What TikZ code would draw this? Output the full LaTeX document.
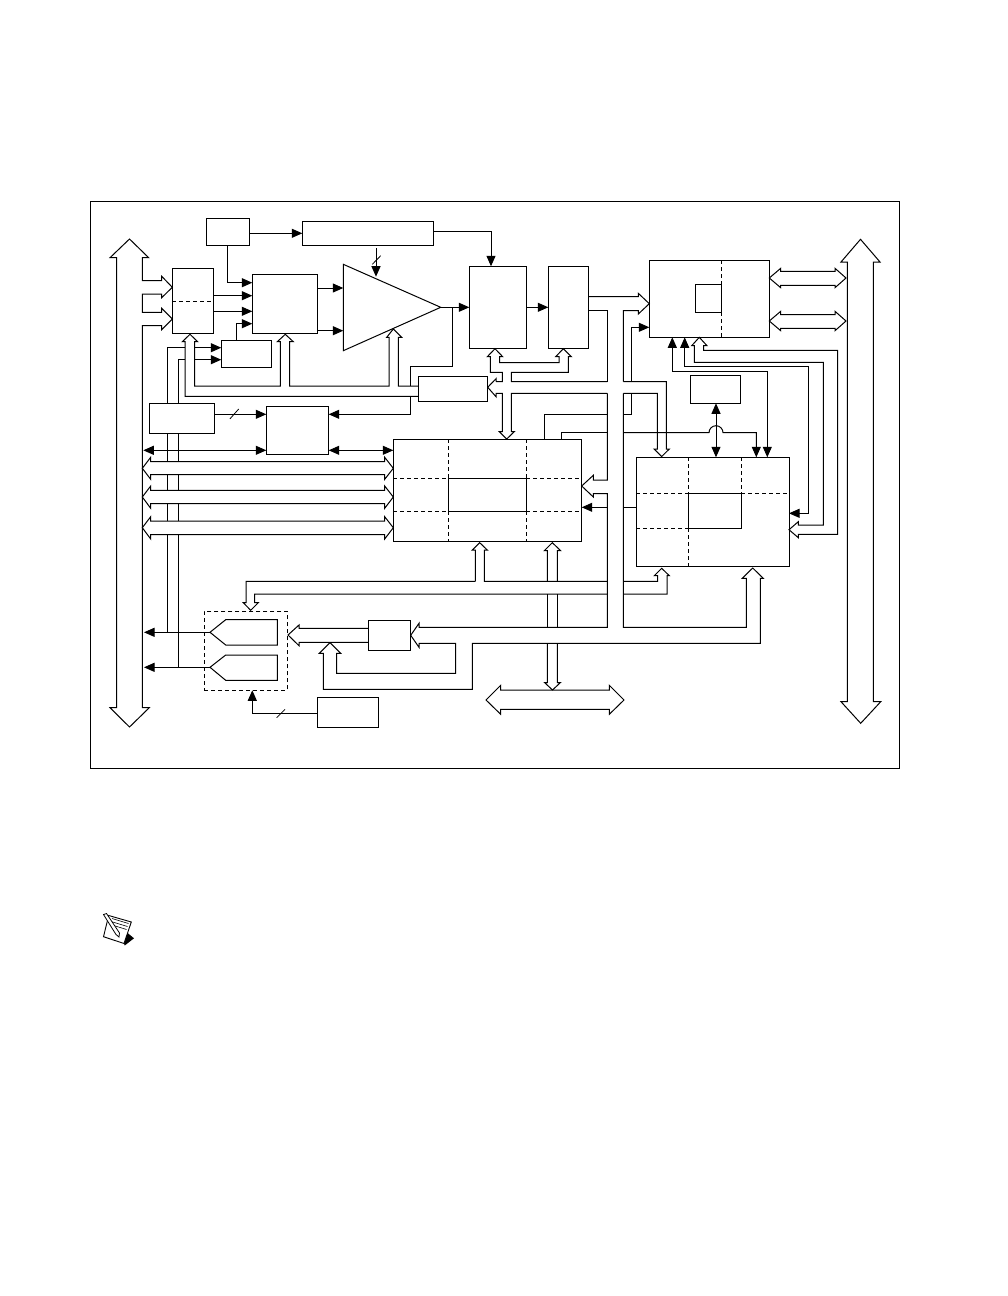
\documentclass[tikz,border=0pt]{standalone}
\usetikzlibrary{arrows.meta,fit}
\tikzset{
  x=1pt,y=-1pt,
  lw/.style={line width=1pt,line join=miter,line cap=butt,black},
  boxn/.style={draw,lw,inner sep=0pt,outer sep=0pt,fit={#1}},
  dashbox/.style={draw,line width=.9pt,dash pattern=on 4pt off 3pt,inner sep=0pt,outer sep=0pt,fit={#1}},
  arr/.style={lw,-{Triangle[length=10.5pt,width=9pt]}},
  dbl/.style={lw,{Triangle[length=10.5pt,width=9pt]}-{Triangle[length=10.5pt,width=9pt]}},
  conn/.style={lw},
  bus/.style={lw},
  dline/.style={line width=.9pt,dash pattern=on 4pt off 3pt},
  slash/.style={line width=.8pt},
}
\begin{document}
\begin{tikzpicture}
\useasboundingbox (0,0) rectangle (1008,1296);
\fill[white] (0,0) rectangle (1008,1296);
% frame
\node[boxn={(90.7,201)(899.7,768.3)}] (frame) {};
% boxes
\node[boxn={(172.3,268.3)(213.3,333.3)}] (muxa) {};
\node[boxn={(206.3,218.3)(249.3,245.3)}] (clk) {};
\node[boxn={(302.3,221.3)(433.3,245.3)}] (longb) {};
\node[boxn={(252.3,274.3)(317.3,333.3)}] (bbox) {};
\node[boxn={(221.3,340.3)(271.3,367.3)}] (cbox) {};
\node[boxn={(149.3,403.3)(214.7,433.3)}] (fbox) {};
\node[boxn={(266.3,406.3)(328.7,454.3)}] (ebox) {};
\node[boxn={(418.3,376.3)(487.7,401.3)}] (dbox) {};
\node[boxn={(469.3,266.3)(526.7,348.7)}] (hbox) {};
\node[boxn={(548.3,266.3)(588.7,348.7)}] (ibox) {};
\node[boxn={(649.3,260.3)(769.3,337.3)}] (kbox) {};
\node[boxn={(695.3,284.3)(721.3,312.3)}] (kin) {};
\node[boxn={(690.3,375.3)(740.7,403.3)}] (lbox) {};
\node[boxn={(393.3,439.3)(581.7,541.3)}] (gbox) {};
\node[boxn={(448.3,478.3)(526.3,511.3)}] (gin) {};
\node[boxn={(636,457.3)(789,566.7)}] (jbox) {};
\node[boxn={(688.3,493.3)(741.3,528.3)}] (jin) {};
\node[boxn={(368.3,620.3)(410.7,650.3)}] (mbox) {};
\node[boxn={(317.3,697.3)(378.7,727.3)}] (nbox) {};
\node[dashbox={(204.3,611.3)(287.3,690.3)}] (dacs) {};
% dashes in boxes
\draw[dline] (muxa.west |- 0,301.3) -- (muxa.east |- 0,301.3);
\draw[dline] (721.3,260.3) -- (721.3,284.3) (721.3,312.3) -- (721.3,337.3);
\draw[dline] (448.3,439.3) -- (448.3,478.3) (448.3,511.3) -- (448.3,541.3);
\draw[dline] (526.3,439.3) -- (526.3,478.3) (526.3,511.3) -- (526.3,541.3);
\draw[dline] (393.3,478.3) -- (448.3,478.3) (526.3,478.3) -- (581.7,478.3);
\draw[dline] (393.3,511.3) -- (448.3,511.3) (526.3,511.3) -- (581.7,511.3);
\draw[dline] (688.3,457.3) -- (688.3,493.3) (688.3,528.3) -- (688.3,566.7);
\draw[dline] (741.3,457.3) -- (741.3,493.3);
\draw[dline] (636,493.3) -- (688.3,493.3) (741.3,493.3) -- (789,493.3);
\draw[dline] (636,528.3) -- (688.3,528.3);
% amplifier
\coordinate (amptip) at (440.7,307.3);
\draw[lw] (343.3,264.3) -- (amptip) -- (343.3,350.7) -- cycle;
% DAC shapes
\coordinate (dac1) at (210,632.3);
\coordinate (dac2) at (210,667.3);
\draw[lw] (dac1) -- (225.7,619.7) -- (277.3,619.7) -- (277.3,645) -- (225.7,645) -- cycle;
\draw[lw] (dac2) -- (225.7,655) -- (277.3,655) -- (277.3,680.3) -- (225.7,680.3) -- cycle;
% big buses
\draw[bus] (129.5,239) -- (148.7,257.7) -- (142.3,257.7) -- (142.3,280.7) -- (161.7,280.7) -- (161.7,276.3) -- (muxa.west |- 0,287.3) -- (161.7,297.7) -- (161.7,294) -- (142.3,294) -- (142.3,312.3) -- (161.7,312.3) -- (161.7,308.3) -- (muxa.west |- 0,319) -- (161.7,329.7) -- (161.7,325.7) -- (142.3,325.7) -- (142.3,707.7) -- (149.3,707.7) -- (129.5,727) -- (110,707.7) -- (116.7,707.7) -- (116.7,257.7) -- (110,257.7) -- cycle;
\draw[bus] (860.5,239.3) -- (880,262) -- (873.3,262) -- (873.3,701.7) -- (880.7,701.7) -- (860.7,723.3) -- (841,701.7) -- (847.3,701.7) -- (847.3,262) -- (841,262) -- cycle;
% horizontal double buses
\draw[bus] (142.3,468.3) -- (150.7,457.3) -- (150.7,461.7) -- (384.7,461.7) -- (384.7,457.3) -- (gbox.west |- 0,468.3) -- (384.7,479.3) -- (384.7,474.7) -- (150.7,474.7) -- (150.7,479.3) -- cycle;
\draw[bus] (142.3,497) -- (150.7,486) -- (150.7,490.3) -- (384.7,490.3) -- (384.7,486) -- (gbox.west |- 0,497) -- (384.7,508.3) -- (384.7,503.7) -- (150.7,503.7) -- (150.7,508.3) -- cycle;
\draw[bus] (142.3,527.7) -- (150.7,516.7) -- (150.7,521) -- (384.7,521) -- (384.7,516.7) -- (gbox.west |- 0,527.7) -- (384.7,539) -- (384.7,534.7) -- (150.7,534.7) -- (150.7,539) -- cycle;
\draw[bus] (kbox.east |- 0,278) -- (780.7,268.3) -- (780.7,271.3) -- (835,271.3) -- (835,268.3) -- (846,278) -- (835,287.7) -- (835,285.3) -- (780.7,285.3) -- (780.7,287.7) -- cycle;
\draw[bus] (kbox.east |- 0,321) -- (780.7,311.3) -- (780.7,314.7) -- (835,314.7) -- (835,311.3) -- (846,321) -- (835,330.7) -- (835,328.3) -- (780.7,328.3) -- (780.7,330.7) -- cycle;
\draw[bus] (486,700) -- (500.7,685.3) -- (500.7,690) -- (609.3,690) -- (609.3,685.3) -- (624,700) -- (609.3,714.3) -- (609.3,709.3) -- (500.7,709.3) -- (500.7,714.3) -- cycle;
% bus from D to mux, B and amp
\draw[bus] (dbox.west |- 0,396.3) -- (185,396.3) -- (185,341.7) -- (182.3,341.7) -- (190,334.3) -- (197.7,341.7) -- (194.7,341.7) -- (194.7,386) -- (280.3,386) -- (280.3,341.7) -- (277.3,341.7) -- (285.3,334.3) -- (293.3,341.7) -- (289.7,341.7) -- (289.7,386) -- (389,386) -- (389,337.3) -- (386.7,337.3) -- (393.3,329) -- (401.7,337.3) -- (398.3,337.3) -- (398.3,386) -- (dbox.west |- 0,386);
% H, I, D, G, J bus
\draw[bus] (496,381.7) -- (502.3,381.7) -- (502.3,372.3) -- (490.3,372.3) -- (490.3,356.7) -- (487.3,356.7) -- (495,348.7) -- (502.7,356.7) -- (499.7,356.7) -- (499.7,362.7) -- (559,362.7) -- (559,356.7) -- (555.7,356.7) -- (563.3,348.7) -- (571.3,356.7) -- (568.3,356.7) -- (568.3,372.3) -- (511.3,372.3) -- (511.3,381.7) -- (607.3,381.7);
\draw[bus] (496,381.7) -- (496,378.7) -- (dbox.east |- 0,387.3) -- (496,396.7) -- (496,393.3) -- (502.3,393.3) -- (502.3,431.7) -- (499.3,431.7) -- (506.7,439) -- (514.3,431.7) -- (511.3,431.7) -- (511.3,393.3) -- (607.3,393.3);
\draw[bus] (623.3,381.7) -- (666.3,381.7) -- (666.3,449) -- (669.3,449) -- (661.7,456.5) -- (654,449) -- (657.3,449) -- (657.3,393.3) -- (623.3,393.3);
% I to K and down the middle
\draw[bus] (ibox.east |- 0,296.7) -- (638.3,296.7) -- (638.3,293.3) -- (kbox.west |- 0,303.7) -- (638.3,314) -- (638.3,310.7) -- (623.3,310.7) -- (623.3,381.7);
\draw[bus] (623.3,393.3) -- (623.3,627.3) -- (746.3,627.3) -- (746.3,578.3) -- (742.3,578.3) -- (752.7,568) -- (763.3,578.3) -- (760.3,578.3) -- (760.3,643.3) -- (472.3,643.3) -- (472.3,689.3) -- (323.3,689.3) -- (323.3,653.3) -- (319.3,653.3) -- (330,642.7) -- (340.7,653.3) -- (336.7,653.3) -- (336.7,673.3) -- (455.7,673.3) -- (455.7,643.3) -- (419,643.3) -- (419,647.3) -- (mbox.east |- 0,635.3) -- (419,623.3) -- (419,627.3) -- (607.3,627.3) -- (607.3,493.7) -- (593.3,493.7) -- (593.3,497) -- (gbox.east |- 0,486) -- (593.3,475.3) -- (593.3,480) -- (607.3,480) -- (607.3,393.3);
\draw[bus] (607.3,381.7) -- (607.3,310.7) -- (ibox.east |- 0,310.7);
% G bottom to data bus
\draw[bus] (547.3,581.3) -- (547.3,550.7) -- (544.3,550.7) -- (552.3,542.7) -- (560.7,550.7) -- (557.3,550.7) -- (557.3,581.3);
\draw[bus] (547.3,594) -- (547.3,627.3) (557.3,594) -- (557.3,627.3);
\draw[bus] (547.3,643.3) -- (547.3,682.7) -- (544.7,682.7) -- (552.5,690) -- (560.3,682.7) -- (557.3,682.7) -- (557.3,643.3);
% G to DACs and J
\draw[bus] (475.3,581.3) -- (475.3,550) -- (472.3,550) -- (479.7,542.7) -- (487.3,550) -- (484.3,550) -- (484.3,581.3) -- (607.3,581.3);
\draw[bus] (475.3,581.3) -- (246,581.3) -- (246,602.7) -- (243.3,602.7) -- (250.7,610.3) -- (258.3,602.7) -- (254.7,602.7) -- (254.7,594) -- (607.3,594);
\draw[bus] (623.3,581.3) -- (657.7,581.3) -- (657.7,575.7) -- (654.3,575.7) -- (661.7,568.3) -- (669.3,575.7) -- (667,575.7) -- (667,594) -- (623.3,594);
% M to DACs
\draw[bus] (mbox.west |- 0,628.3) -- (299,628.3) -- (299,625) -- (288,635) -- (299,645.7) -- (299,642.3) -- (mbox.west |- 0,642.3);
% K to J
\draw[bus] (837.7,534.3) -- (798.3,534.3) -- (798.3,537.7) -- (jbox.east |- 0,529.7) -- (798.3,521.7) -- (798.3,525) -- (823.3,525) -- (823.3,362.3) -- (694.3,362.3) -- (694.3,345.7) -- (691.7,345.7) -- (699.3,0 |- kbox.south) -- (707,345.7) -- (703.7,345.7) -- (703.7,350.3) -- (837.7,350.3) -- cycle;
% thin arrows
\draw[arr] (clk.east |- 0,233.3) -- (longb.west |- 0,233.3);
\draw[arr] (longb.east |- 0,231) -- (491,231) -- (491,0 |- hbox.north);
\draw[arr] (227.7,0 |- clk.south) -- (227.7,282.7) -- (bbox.west |- 0,282.7);
\draw[arr] (muxa.east |- 0,295.7) -- (bbox.west |- 0,295.7);
\draw[arr] (muxa.east |- 0,311.3) -- (bbox.west |- 0,311.3);
\draw[arr] (236.7,0 |- cbox.north) -- (236.7,323.7) -- (bbox.west |- 0,323.7);
\draw[arr] (bbox.east |- 0,288) -- (343.3,288);
\draw[arr] (bbox.east |- 0,330.7) -- (343.3,330.7);
\draw[arr] (376,248.3) -- (376,276.7);
\draw[slash] (372.3,264.3) -- (380.7,255.7);
\draw[arr] (amptip) -- (hbox.west |- amptip);
\draw[arr] (hbox.east |- amptip) -- (ibox.west |- amptip);
\draw[conn] (452.3,307.3) -- (452.3,366.3) -- (410.3,366.3) -- (410.3,386);
\draw[arr] (410.3,396.3) -- (410.3,414.3) -- (ebox.east |- 0,414.3);
\draw[conn] (167.7,0 |- fbox.north) -- (167.7,347.7) -- (185,347.7);
\draw[arr] (194.7,347.7) -- (cbox.west |- 0,347.7);
\draw[conn] (178.7,0 |- fbox.north) -- (178.7,359.7) -- (185,359.7);
\draw[arr] (194.7,359.7) -- (cbox.west |- 0,359.7);
\draw[arr] (fbox.east |- 0,414.3) -- (ebox.west |- 0,414.3);
\draw[slash] (230,418.8) -- (238.7,409);
\draw[conn] (167.7,433.3) -- (167.7,461.7) (167.7,474.7) -- (167.7,490.3) (167.7,503.7) -- (167.7,521) (167.7,534.7) -- (167.7,632.3);
\draw[conn] (178.7,433.3) -- (178.7,461.7) (178.7,474.7) -- (178.7,490.3) (178.7,503.7) -- (178.7,521) (178.7,534.7) -- (178.7,667.3);
\draw[dbl] (143.3,450.3) -- (ebox.west |- 0,450.3);
\draw[dbl] (ebox.east |- 0,450.3) -- (gbox.west |- 0,450.3);
\draw[arr] (dac1) -- (144,632.3);
\draw[arr] (dac2) -- (144,667.3);
\draw[arr] (nbox.west |- 0,713.3) -- (252.3,713.3) -- (252.3,0 |- dacs.south);
\draw[slash] (276.7,717.7) -- (285,709.3);
% G top lines
\draw[conn] (544.3,0 |- gbox.north) -- (544.3,414.3) -- (607.3,414.3);
\draw[conn] (623.3,414.3) -- (631,414.3) -- (631,393.3);
\draw[arr] (631,381.7) -- (631,327.3) -- (kbox.west |- 0,327.3);
\draw[conn] (561.7,0 |- gbox.north) -- (561.7,432.7) -- (607.3,432.7);
\draw[arr] (623.3,432.7) -- (709,432.7) arc[start angle=180,end angle=360,radius=7] -- (756.3,432.7) -- (756.3,0 |- jbox.north);
\draw[dbl] (716,0 |- lbox.south) -- (716,0 |- jbox.north);
% G right / J left
\draw[arr] (607.3,507.3) -- (gbox.east |- 0,507.3);
\draw[conn] (623.3,507.3) -- (jbox.west |- 0,507.3);
% K bottom to J
\draw[dbl] (767.3,0 |- jbox.north) -- (767.3,371.3) -- (672.3,371.3) -- (672.3,0 |- kbox.south);
\draw[dbl] (jbox.east |- 0,513.3) -- (808.7,513.3) -- (808.7,366) -- (684.7,366) -- (684.7,0 |- kbox.south);
% note icon
\fill[black] (124,943.3) -- (127.3,932.7) -- (134,938.3) -- (124.7,945.5) -- cycle;
\draw[line width=.9pt,fill=white] (108.7,915.5) -- (131.3,922) -- (124,943.5) -- (103.5,936.7) -- cycle;
\draw[line width=.6pt] (112,918.5) -- (128.5,923.5) (111,921.5) -- (127.5,926.5) (110.5,924.5) -- (126.5,929.5);
\draw[line width=.8pt,fill=white] (103.5,914.5) -- (106.5,913.5) -- (119.5,933) -- (119,937) -- (116,934.5) -- cycle;
\end{tikzpicture}
\end{document}
